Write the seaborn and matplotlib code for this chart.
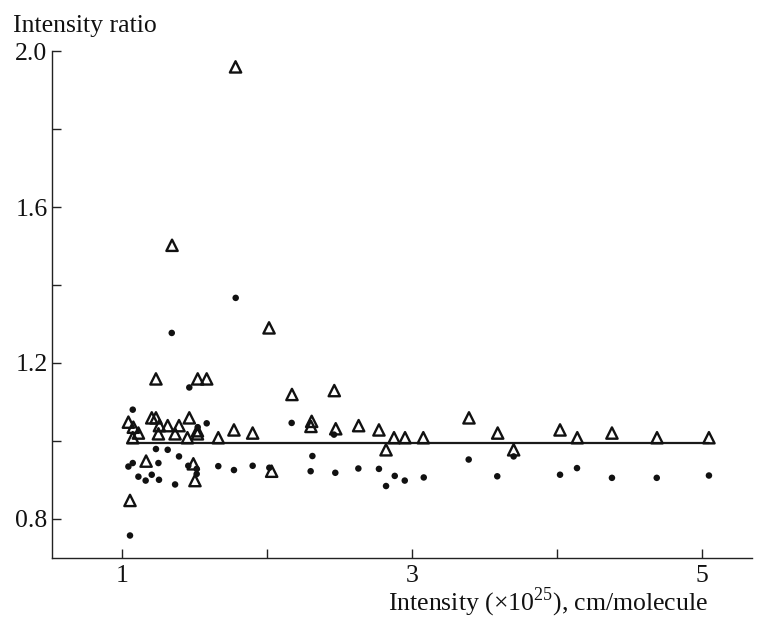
import pandas as pd
import matplotlib
matplotlib.use("Agg")
from matplotlib import pyplot as plt
from matplotlib.ticker import FixedLocator
import seaborn as sns

# open triangles
tri_x = [1.783, 1.345, 2.014, 1.234, 1.522, 1.584, 2.172, 2.464, 1.044, 1.078,
         1.113, 1.074, 1.205, 1.234, 1.258, 1.315, 1.393, 1.464, 1.251, 1.366,
         1.451, 1.520, 1.520, 1.664, 1.772, 1.901, 1.166, 1.492, 1.503, 1.055,
         2.032, 2.308, 2.303, 2.474, 2.632, 2.772, 2.876, 2.952, 3.078, 2.821,
         3.393, 3.591, 3.701, 4.021, 4.140, 4.379, 4.690, 5.048]
tri_y = [1.960, 1.502, 1.290, 1.159, 1.159, 1.159, 1.119, 1.129, 1.048, 1.035,
         1.020, 1.008, 1.059, 1.059, 1.039, 1.039, 1.039, 1.059, 1.018, 1.018,
         1.008, 1.026, 1.018, 1.008, 1.028, 1.020, 0.948, 0.941, 0.898, 0.847,
         0.922, 1.050, 1.037, 1.031, 1.039, 1.028, 1.008, 1.008, 1.008, 0.977,
         1.059, 1.020, 0.977, 1.028, 1.008, 1.020, 1.008, 1.008]

# filled dots
dot_x = [1.784, 1.343, 1.464, 1.074, 1.584, 1.522, 1.234, 1.315, 1.393, 1.074,
         1.044, 1.251, 1.457, 1.515, 1.515, 1.113, 1.163, 1.205, 1.255, 1.366,
         1.664, 1.772, 1.901, 1.055, 2.016, 2.170, 2.313, 2.301, 2.471, 2.630,
         2.772, 2.821, 2.881, 2.950, 3.081, 2.462, 3.391, 3.588, 3.701, 4.021,
         4.138, 4.379, 4.688, 5.048]
dot_y = [1.367, 1.277, 1.137, 1.080, 1.045, 1.035, 0.979, 0.977, 0.960, 0.943,
         0.934, 0.943, 0.936, 0.928, 0.915, 0.908, 0.898, 0.913, 0.900, 0.888,
         0.935, 0.925, 0.936, 0.757, 0.931, 1.046, 0.961, 0.922, 0.918, 0.929,
         0.928, 0.884, 0.910, 0.898, 0.906, 1.016, 0.952, 0.909, 0.960, 0.913,
         0.930, 0.905, 0.905, 0.911]

line_x = [1.044, 5.048]
line_y = [0.995, 0.995]

sns.set_style("white")
plt.rcParams['font.family'] = ['Liberation Serif', 'DejaVu Serif']
plt.rcParams['mathtext.fontset'] = 'custom'
plt.rcParams['mathtext.rm'] = 'Liberation Serif'

fig = plt.figure(figsize=(7.65, 6.19), dpi=100)
ax = fig.add_axes([51.7 / 765, 1 - 557.7 / 619, (752 - 51.7) / 765, (557.7 - 51.3) / 619])

sns.lineplot(x=line_x, y=line_y, ax=ax, color='#1a1a1a', linewidth=1.6)
sns.scatterplot(x=dot_x, y=dot_y, ax=ax, marker='o', s=22, color='#111111',
                edgecolor='none', zorder=3)
sns.scatterplot(x=tri_x, y=tri_y, ax=ax, marker='^', s=66, facecolor='none',
                edgecolor='#111111', linewidth=1.7, zorder=4)

ax.set_xlim(0.515, 5.345)
ax.set_ylim(0.7, 2.0)
ax.set_xticks([1, 3, 5])
ax.set_xticklabels(['1', '3', '5'])
ax.xaxis.set_minor_locator(FixedLocator([2, 4]))
ax.set_yticks([0.8, 1.2, 1.6, 2.0])
ax.set_yticklabels(['0.8', '1.2', '1.6', '2.0'])
ax.yaxis.set_minor_locator(FixedLocator([1.0, 1.4, 1.8]))
ax.tick_params(which='both', direction='in', length=6.5, width=1.0, color='#222222',
               labelsize=18.5, labelcolor='#111111')
ax.tick_params(axis='x', which='both', bottom=True, pad=5)
ax.tick_params(axis='y', which='both', left=True, pad=3)
sns.despine(ax=ax)
for s in ['left', 'bottom']:
    ax.spines[s].set_linewidth(1.0)
    ax.spines[s].set_color('#222222')

ax.set_xlabel('')
ax.set_ylabel('')
fig.text(13 / 765, 1 - 32 / 619, 'Intensity ratio', fontsize=18.5, color='#111111',
         ha='left', va='baseline')
fig.text(708 / 765, 1 - 610 / 619, r'Intensity ($\times$10$^{25}$), cm/molecule',
         fontsize=18.5, color='#111111', ha='right', va='baseline')

fig.savefig('out.png', dpi=100)
